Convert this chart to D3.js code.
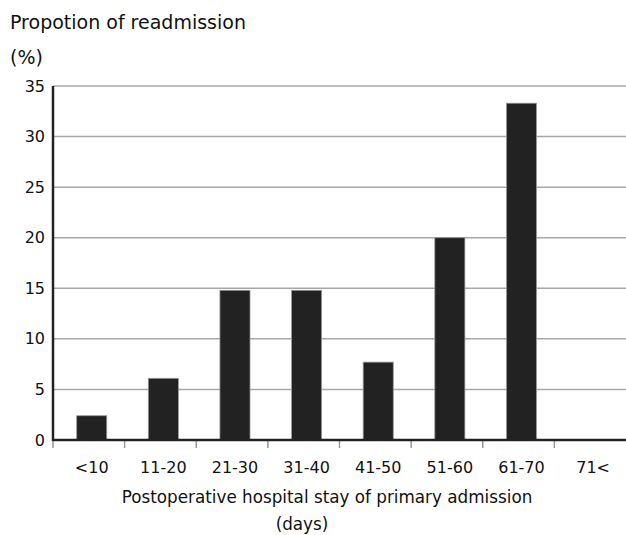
<!DOCTYPE html>
<html>
<head>
<meta charset="utf-8">
<script src="https://cdn.jsdelivr.net/npm/d3@7"></script>
<style>
  body { margin: 0; background: #fff; }
  text { font-family: 'DejaVu Sans', Verdana, sans-serif; fill: #111; }
</style>
</head>
<body>
<div class="chart"></div>
<script>
const width = 626;
const height = 535;
const margin = { top: 86, right: 0, bottom: 95, left: 53 };

const categories = ['<10', '11-20', '21-30', '31-40', '41-50', '51-60', '61-70', '71<'];
const values = [2.4, 6.1, 14.8, 14.8, 7.7, 20.0, 33.3, 0];
const yTicks = [0, 5, 10, 15, 20, 25, 30, 35];

const data = categories.map((c, i) => ({ cat: c, value: values[i] }));

const xScale = d3.scaleBand()
  .domain(categories)
  .range([margin.left, width - margin.right])
  .paddingInner(0.58)
  .paddingOuter(0.29)
  .align(0.57);

const yScale = d3.scaleLinear()
  .domain([0, 35])
  .range([height - margin.bottom, margin.top]);

const svg = d3.select('.chart').append('svg')
  .attr('width', width)
  .attr('height', height);

// gridlines
svg.append('g')
  .attr('class', 'grid')
  .selectAll('line')
  .data(yTicks.filter(d => d > 0))
  .join('line')
  .attr('x1', margin.left)
  .attr('x2', width - margin.right)
  .attr('y1', d => yScale(d))
  .attr('y2', d => yScale(d))
  .attr('stroke', '#a8a8a8')
  .attr('stroke-width', 1.5);

// bars
svg.append('g')
  .attr('class', 'bars')
  .selectAll('rect')
  .data(data.filter(d => d.value > 0))
  .join('rect')
  .attr('x', d => xScale(d.cat))
  .attr('y', d => yScale(d.value))
  .attr('width', xScale.bandwidth())
  .attr('height', d => yScale(0) - yScale(d.value))
  .attr('fill', '#222')
  .attr('stroke', '#999')
  .attr('stroke-width', 0.8);

// y axis labels
const yAxis = d3.axisLeft(yScale)
  .tickValues(yTicks)
  .tickSize(0)
  .tickPadding(8);

svg.append('g')
  .attr('class', 'y-axis')
  .attr('transform', `translate(${margin.left}, 0)`)
  .call(yAxis)
  .call(g => g.select('.domain').remove())
  .selectAll('text')
  .style('font-size', '16px')
  .style('font-family', "'DejaVu Sans', Verdana, sans-serif")
  .attr('fill', '#111');

// x axis ticks at band boundaries
const step = xScale.step();
const bounds = categories.map((c, i) => margin.left + i * step);
svg.append('g')
  .attr('class', 'x-ticks')
  .selectAll('line')
  .data(bounds)
  .join('line')
  .attr('x1', d => d)
  .attr('x2', d => d)
  .attr('y1', yScale(0))
  .attr('y2', yScale(0) + 8)
  .attr('stroke', '#999')
  .attr('stroke-width', 1.5);

// x labels
svg.append('g')
  .attr('class', 'x-labels')
  .selectAll('text')
  .data(categories)
  .join('text')
  .attr('x', d => xScale(d) + xScale.bandwidth() / 2)
  .attr('y', yScale(0) + 33)
  .attr('text-anchor', 'middle')
  .style('font-size', '16px')
  .text(d => d);

// axis lines
svg.append('line')
  .attr('x1', margin.left).attr('x2', margin.left)
  .attr('y1', yScale(35)).attr('y2', yScale(0) + 1)
  .attr('stroke', '#222').attr('stroke-width', 2.5);
svg.append('line')
  .attr('x1', margin.left).attr('x2', width - margin.right)
  .attr('y1', yScale(0)).attr('y2', yScale(0))
  .attr('stroke', '#222').attr('stroke-width', 2.5);

// titles
svg.append('text')
  .attr('x', 10).attr('y', 29)
  .style('font-size', '19px')
  .text('Propotion of readmission');
svg.append('text')
  .attr('x', 10).attr('y', 64)
  .style('font-size', '19px')
  .text('(%)');

svg.append('text')
  .attr('x', 327).attr('y', 503)
  .attr('text-anchor', 'middle')
  .style('font-size', '16.8px')
  .text('Postoperative hospital stay of primary admission');
svg.append('text')
  .attr('x', 302).attr('y', 530)
  .attr('text-anchor', 'middle')
  .style('font-size', '16.8px')
  .text('(days)');
</script>
</body>
</html>
